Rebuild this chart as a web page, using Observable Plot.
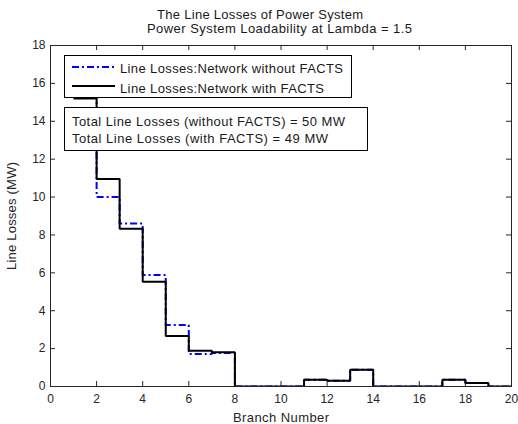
<!DOCTYPE html>
<html>
<head>
<meta charset="utf-8">
<script src="https://cdn.jsdelivr.net/npm/d3@7"></script>
<script src="https://cdn.jsdelivr.net/npm/@observablehq/plot@0.6"></script>
<style>
  html, body { margin: 0; padding: 0; background: #fff; }
  #wrap { position: relative; width: 518px; height: 424px; overflow: hidden; background: #fff; }
  #plot { position: absolute; left: 0; top: 25px; }
  #plot svg { display: block; }
  #overlay { position: absolute; left: 0; top: 0; pointer-events: none; }
</style>
</head>
<body>
<div id="wrap"><div id="plot"></div></div>
<script>
// ---- data ----
const branch = [1, 2, 3, 4, 5, 6, 7, 8, 9, 10, 11, 12, 13, 14, 15, 16, 17, 18, 19, 20];
const lossWithout = [16.7, 10.0, 8.6, 5.88, 3.25, 1.72, 1.77, 0, 0, 0, 0.35, 0.3, 0.88, 0, 0, 0, 0.35, 0.19, 0, 0];
const lossWith = [15.2, 10.95, 8.33, 5.53, 2.67, 1.89, 1.81, 0, 0, 0, 0.35, 0.3, 0.88, 0, 0, 0, 0.35, 0.19, 0, 0];
const xTicks = [0, 2, 4, 6, 8, 10, 12, 14, 16, 18, 20];
const yTicks = [0, 2, 4, 6, 8, 10, 12, 14, 16, 18];
const titleLines = ["The Line Losses of Power System", "Power System Loadability at Lambda = 1.5"];
const seriesNames = ["Line Losses:Network without FACTS", "Line Losses:Network with FACTS"];
const totalLines = ["Total Line Losses (without FACTS) = 50 MW", "Total Line Losses (with FACTS) = 49 MW"];
const xLabel = "Branch Number";
const yLabel = "Line Losses (MW)";

// ---- style ----
const FONT = "'Liberation Sans', Arial, Helvetica, sans-serif";
const BLUE = "#0000ff";
const DASH = "7,3,2,3";
const AXIS = "#262626";

const W = 518, H = 399, mT = 20, mB = 38, mL = 50, mR = 7;
const innerW = W - mL - mR, innerH = H - mT - mB;

const rows = branch.map((b, i) => ({branch: b, without: lossWithout[i], with: lossWith[i]}));

const chart = Plot.plot({
  width: W, height: H,
  marginTop: mT, marginBottom: mB, marginLeft: mL, marginRight: mR,
  style: {fontFamily: FONT, fontSize: "12px", color: AXIS, background: "transparent", overflow: "visible"},
  x: {domain: [0, 20]},
  y: {domain: [0, 18]},
  marks: [
    Plot.ruleX(xTicks, {insetTop: innerH - 5, stroke: AXIS}),
    Plot.ruleX(xTicks, {insetBottom: innerH - 5, stroke: AXIS}),
    Plot.ruleY(yTicks, {insetRight: innerW - 5, stroke: AXIS}),
    Plot.ruleY(yTicks, {insetLeft: innerW - 5, stroke: AXIS}),
    Plot.frame({stroke: AXIS}),
    Plot.lineY(rows, {x: "branch", y: "without", curve: "step-after", stroke: BLUE, strokeWidth: 2,
      strokeDasharray: DASH, strokeLinejoin: "miter", strokeLinecap: "butt", clip: true}),
    Plot.lineY(rows, {x: "branch", y: "with", curve: "step-after", stroke: "#000", strokeWidth: 2,
      strokeLinejoin: "miter", strokeLinecap: "butt", clip: true}),
    Plot.axisX({ticks: xTicks, tickSize: 0, tickPadding: 8, label: xLabel, labelAnchor: "center",
      labelArrow: "none", labelOffset: 35, fontSize: 12}),
    Plot.axisY({ticks: yTicks, tickSize: 0, tickPadding: 5, label: yLabel, labelAnchor: "center",
      labelArrow: "none", labelOffset: 44, fontSize: 12})
  ]
});
document.getElementById("plot").appendChild(chart);

// stretch axis labels to match the reference's wide letter spacing
const xl = chart.querySelector('g[aria-label="x-axis label"] text');
if (xl) { xl.setAttribute("textLength", 96); xl.setAttribute("lengthAdjust", "spacing"); xl.style.fontSize = "13px"; }
const yl = chart.querySelector('g[aria-label="y-axis label"] text');
if (yl) { yl.setAttribute("textLength", 108); yl.setAttribute("lengthAdjust", "spacing"); yl.style.fontSize = "13px"; }

// ---- overlay: title, legend, totals box ----
const ov = d3.create("svg").attr("id", "overlay").attr("width", 518).attr("height", 424)
  .attr("font-family", FONT).attr("font-size", 13).attr("fill", "#1a1a1a");

ov.append("text").attr("x", 260).attr("y", 19).attr("text-anchor", "middle")
  .attr("textLength", 206).attr("lengthAdjust", "spacing").text(titleLines[0]);
ov.append("text").attr("x", 279.5).attr("y", 33).attr("text-anchor", "middle")
  .attr("textLength", 265).attr("lengthAdjust", "spacing").text(titleLines[1]);

// legend box
ov.append("rect").attr("x", 64.5).attr("y", 55.5).attr("width", 287).attr("height", 42)
  .attr("fill", "#fff").attr("stroke", "#000");
ov.append("line").attr("x1", 72).attr("x2", 115).attr("y1", 67).attr("y2", 67)
  .attr("stroke", BLUE).attr("stroke-width", 2).attr("stroke-dasharray", DASH);
ov.append("line").attr("x1", 72).attr("x2", 115).attr("y1", 86).attr("y2", 86)
  .attr("stroke", "#000").attr("stroke-width", 2);
ov.append("text").attr("x", 120).attr("y", 72.5).attr("textLength", 223).attr("lengthAdjust", "spacing").text(seriesNames[0]);
ov.append("text").attr("x", 120).attr("y", 92.5).attr("textLength", 204).attr("lengthAdjust", "spacing").text(seriesNames[1]);

// totals box
ov.append("rect").attr("x", 64.5).attr("y", 107.5).attr("width", 303).attr("height", 43)
  .attr("fill", "#fff").attr("stroke", "#000");
ov.append("text").attr("x", 72).attr("y", 126).attr("textLength", 273).attr("lengthAdjust", "spacing").text(totalLines[0]);
ov.append("text").attr("x", 72).attr("y", 143).attr("textLength", 256).attr("lengthAdjust", "spacing").text(totalLines[1]);

document.getElementById("wrap").appendChild(ov.node());
</script>
</body>
</html>
